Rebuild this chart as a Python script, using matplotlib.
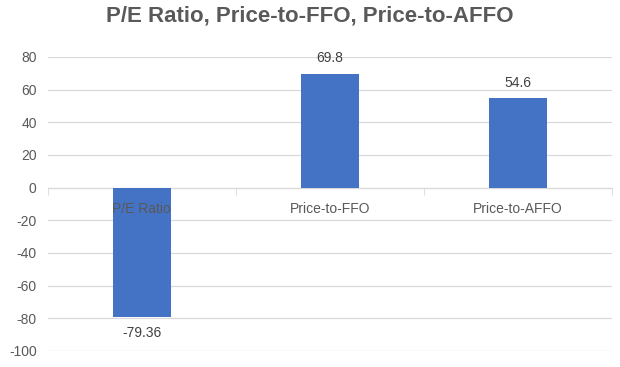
import matplotlib
matplotlib.use("Agg")
import matplotlib.pyplot as plt
import numpy as np

categories = ["P/E Ratio", "Price-to-FFO", "Price-to-AFFO"]
values = [-79.36, 69.8, 54.6]
value_labels = ["-79.36", "69.8", "54.6"]

plt.rcParams['font.family'] = ['Liberation Sans', 'DejaVu Sans']
plt.rcParams['axes.unicode_minus'] = False

fig = plt.figure(figsize=(6.2, 3.67), dpi=100)
ax = fig.add_axes([0.077, 0.0436, 0.91, 0.8011])

x = np.arange(len(categories))
ax.bar(x, values, width=0.31, color='#4472C4', zorder=3)

ax.set_xlim(-0.5, len(categories) - 0.5)
ax.set_ylim(-100, 80)
ax.set_yticks(np.arange(-100, 81, 20))
ax.tick_params(axis='y', length=0, labelsize=10, labelcolor='#595959', pad=8)
ax.yaxis.grid(True, color='#D9D9D9', linewidth=0.9, zorder=0)

# category axis crosses at zero
for s in ['top', 'right', 'left']:
    ax.spines[s].set_visible(False)
ax.spines['bottom'].set_position(('data', 0))
ax.spines['bottom'].set_color('#D9D9D9')
ax.spines['bottom'].set_zorder(2)
ax.set_xticks(x)
ax.set_xticklabels([])
ax.set_xticks(np.arange(-0.5, len(categories)), minor=True)
ax.tick_params(axis='x', which='major', length=0)
ax.tick_params(axis='x', which='minor', length=5, color='#D9D9D9')

# category labels drawn over the bars, like Excel
for xi, c in zip(x, categories):
    ax.annotate(c, (xi, 0), xytext=(0, -10), textcoords='offset points',
                ha='center', va='top', fontsize=10, color='#595959', zorder=5)

for xi, v, t in zip(x, values, value_labels):
    if v >= 0:
        ax.annotate(t, (xi, v), xytext=(0, 6), textcoords='offset points',
                    ha='center', va='bottom', fontsize=10, color='#404040')
    else:
        ax.annotate(t, (xi, v), xytext=(0, -6), textcoords='offset points',
                    ha='center', va='top', fontsize=10, color='#404040')

fig.suptitle("P/E Ratio, Price-to-FFO, Price-to-AFFO", x=0.5, y=0.985,
             fontsize=16, fontweight='bold', color='#595959', va='top')

fig.savefig("out.png", dpi=100)
